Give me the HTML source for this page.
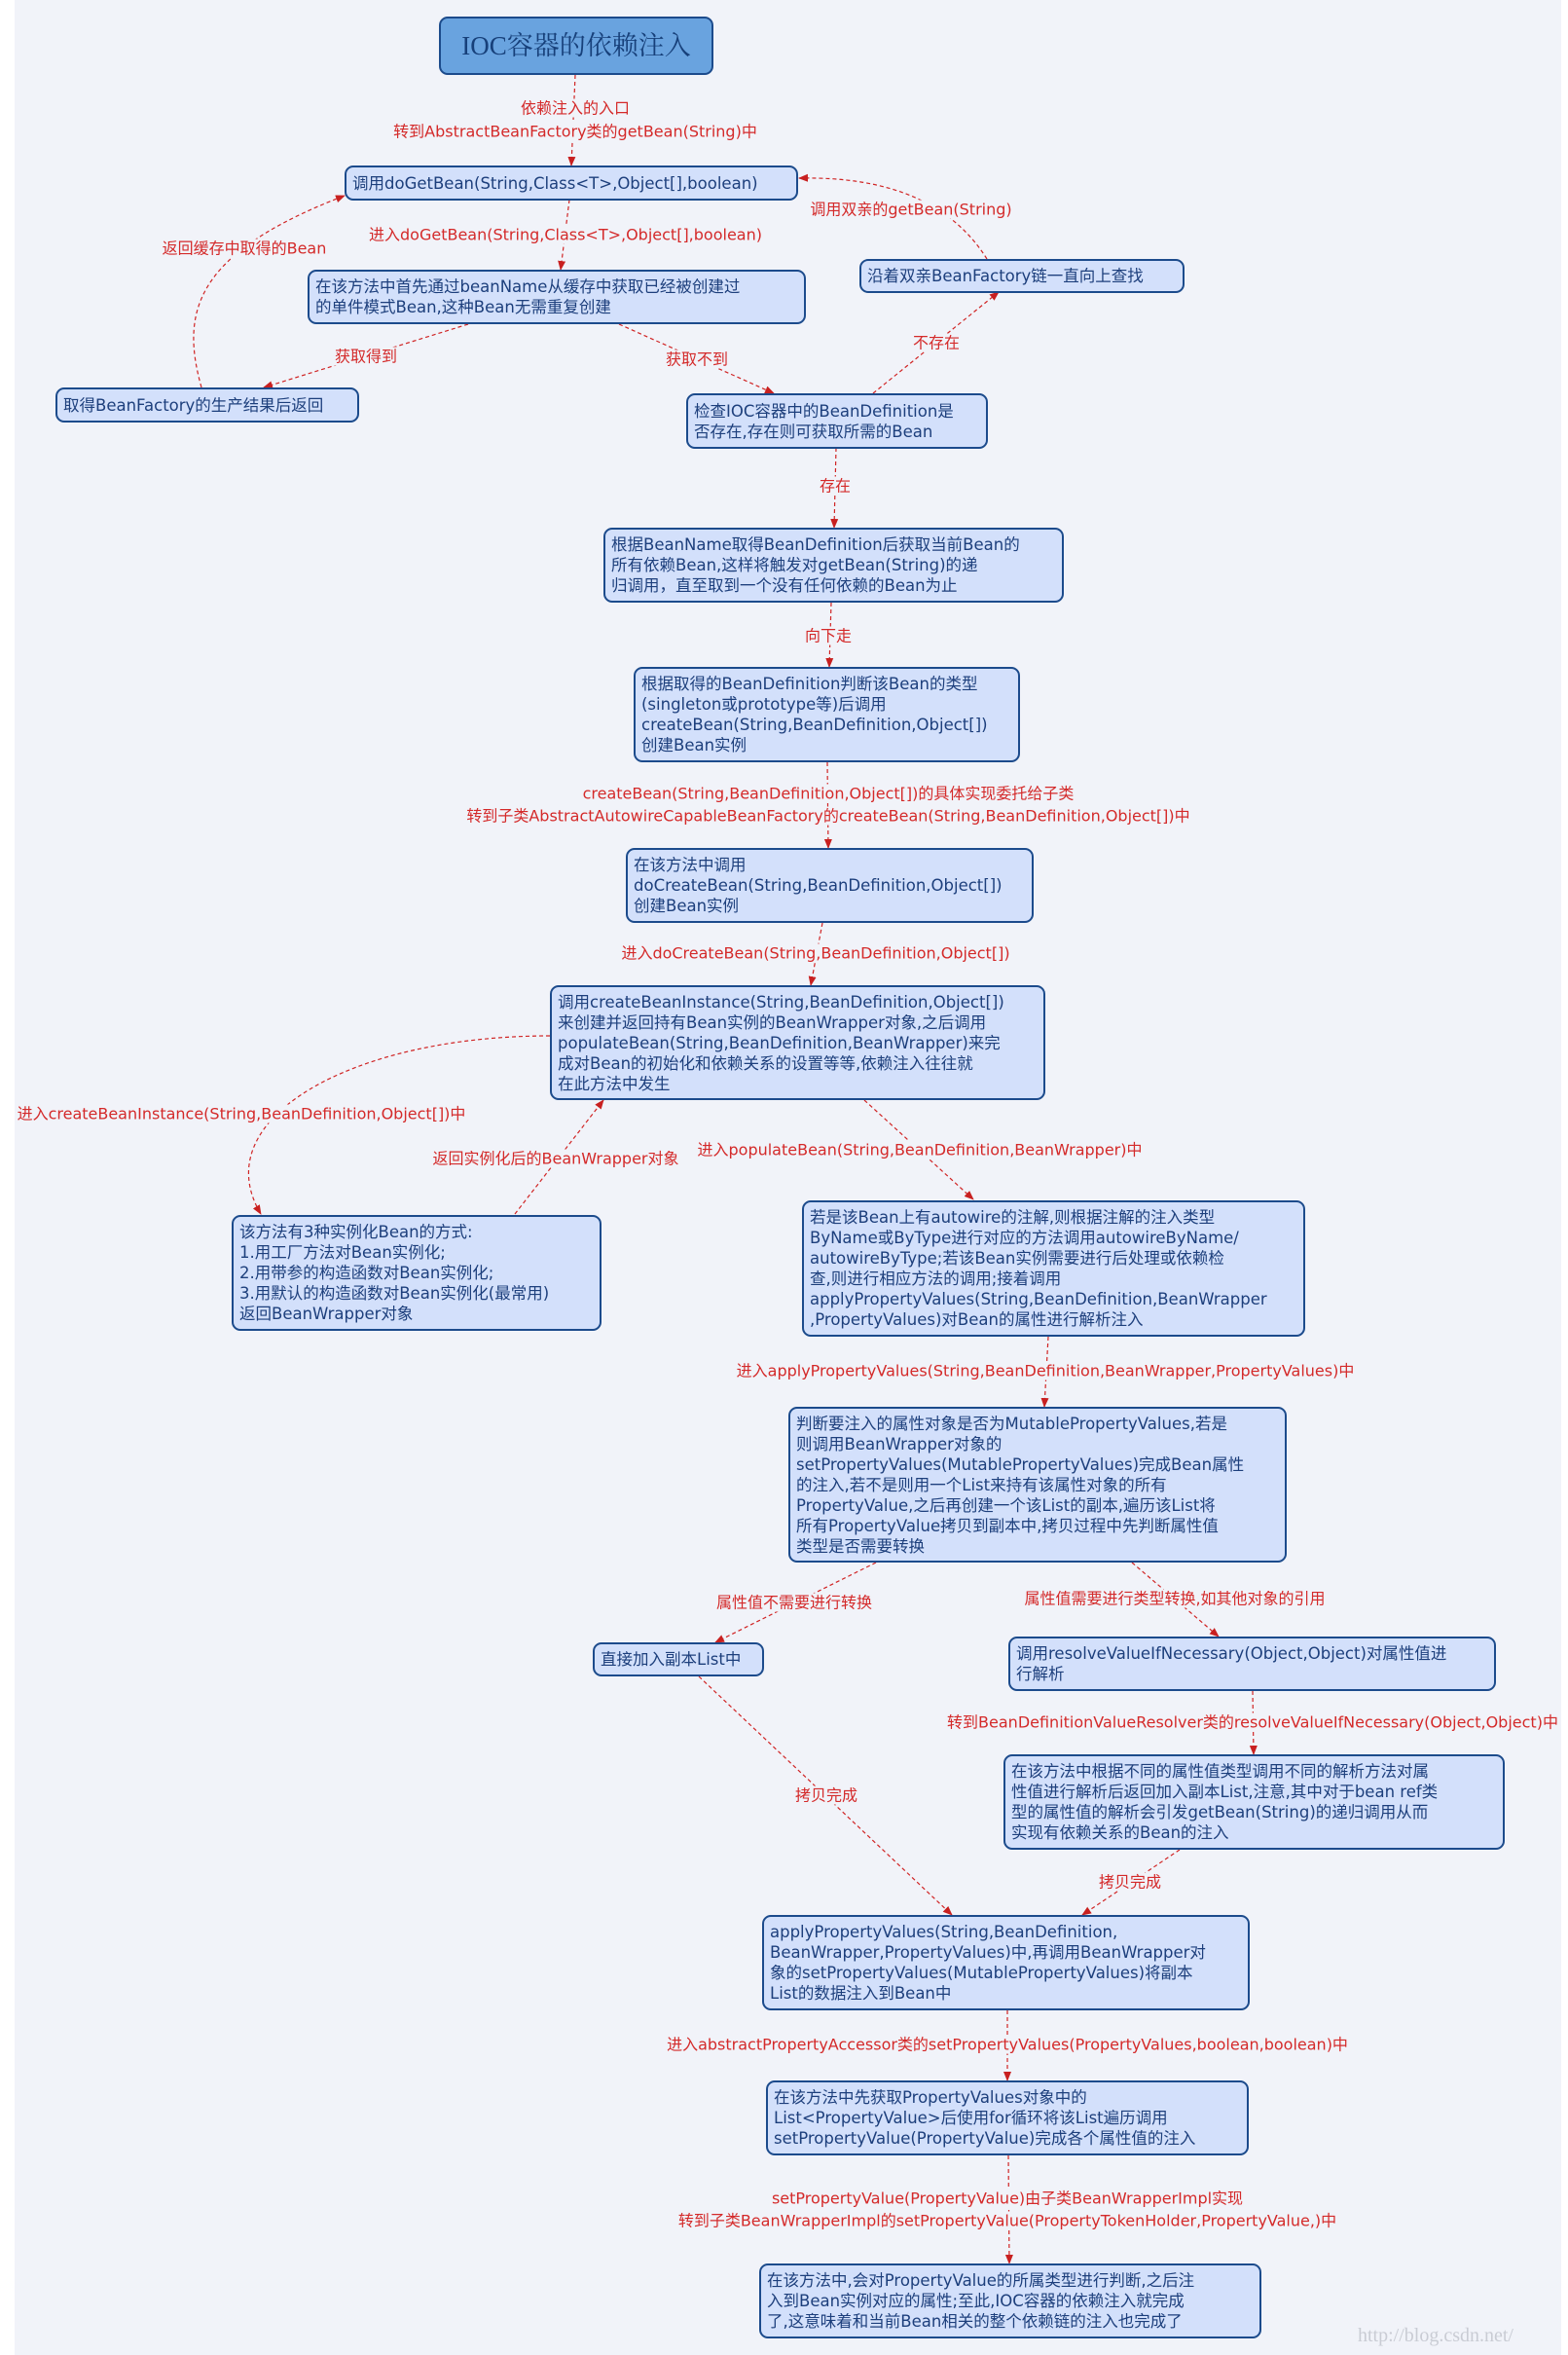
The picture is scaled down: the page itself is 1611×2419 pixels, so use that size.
<!DOCTYPE html>
<html><head><meta charset="utf-8">
<style>
html,body{margin:0;padding:0;background:#fff;}
body{width:1611px;height:2419px;position:relative;overflow:hidden;}
#bg{position:absolute;left:15px;top:0;width:1589px;height:2419px;background:#f1f3f9;}
.b{position:absolute;box-sizing:border-box;border:2px solid #1c4b8c;border-radius:9px;background:#d3e0fb;color:#1d3f7c;
font-family:"DejaVu Sans","Noto Sans CJK SC",sans-serif;font-size:16.5px;line-height:21px;padding:0 6px;display:flex;align-items:center;white-space:nowrap;}
.l{position:absolute;transform:translate(-50%,-50%);color:#d42a2a;background:#f1f3f9;font-family:"DejaVu Sans","Noto Sans CJK SC",sans-serif;font-size:16px;line-height:19px;white-space:nowrap;text-align:center;padding:0 2px;}
svg{position:absolute;left:0;top:0;}
</style></head><body>
<div id="bg"></div>
<svg width="1611" height="2419" viewBox="0 0 1611 2419">
<defs><marker id="a" markerWidth="10" markerHeight="10" refX="9" refY="5" orient="auto" markerUnits="userSpaceOnUse"><path d="M0,1 L10,5 L0,9 z" fill="#c82020"/></marker></defs>
<g stroke="#d02424" stroke-width="1.2" stroke-dasharray="4,3" fill="none" marker-end="url(#a)">
<path d="M591,77 L587,170"/>
<path d="M585,205 L576,277"/>
<path d="M481,333 L271,398"/>
<path d="M636,333 L795,404"/>
<path d="M897,404 L1026,300"/>
<path d="M1014,266 Q960,180 821,183"/>
<path d="M207,398 C185,320 200,260 354,201"/>
<path d="M859,460 L857,542"/>
<path d="M854,619 L852,685"/>
<path d="M850,783 L851,871"/>
<path d="M845,948 L833,1012"/>
<path d="M565,1064 C360,1064 210,1150 268,1247"/>
<path d="M529,1247 L620,1130"/>
<path d="M888,1130 L1000,1232"/>
<path d="M1077,1373 L1073,1445"/>
<path d="M900,1605 L735,1687"/>
<path d="M1163,1605 L1252,1681"/>
<path d="M1287,1737 L1288,1802"/>
<path d="M718,1722 L978,1967"/>
<path d="M1212,1900 L1112,1967"/>
<path d="M1035,2065 L1035,2137"/>
<path d="M1036,2214 L1037,2325"/>
</g>
</svg>

<div class="b" style="left:451px;top:17px;width:282px;height:60px;background:#69a3df;justify-content:center;font-family:'Liberation Serif','Noto Serif CJK SC',serif;font-size:27px;color:#17407a;">IOC容器的依赖注入</div>
<div class="b" style="left:354px;top:170px;width:466px;height:36px;">调用doGetBean(String,Class&lt;T&gt;,Object[],boolean)</div>
<div class="b" style="left:316px;top:277px;width:512px;height:56px;">在该方法中首先通过beanName从缓存中获取已经被创建过<br>的单件模式Bean,这种Bean无需重复创建</div>
<div class="b" style="left:883px;top:266px;width:334px;height:35px;">沿着双亲BeanFactory链一直向上查找</div>
<div class="b" style="left:57px;top:398px;width:312px;height:36px;">取得BeanFactory的生产结果后返回</div>
<div class="b" style="left:705px;top:404px;width:310px;height:57px;">检查IOC容器中的BeanDefinition是<br>否存在,存在则可获取所需的Bean</div>
<div class="b" style="left:620px;top:542px;width:473px;height:77px;">根据BeanName取得BeanDefinition后获取当前Bean的<br>所有依赖Bean,这样将触发对getBean(String)的递<br>归调用，直至取到一个没有任何依赖的Bean为止</div>
<div class="b" style="left:651px;top:685px;width:397px;height:98px;">根据取得的BeanDefinition判断该Bean的类型<br>(singleton或prototype等)后调用<br>createBean(String,BeanDefinition,Object[])<br>创建Bean实例</div>
<div class="b" style="left:643px;top:871px;width:419px;height:77px;">在该方法中调用<br>doCreateBean(String,BeanDefinition,Object[])<br>创建Bean实例</div>
<div class="b" style="left:565px;top:1012px;width:509px;height:118px;">调用createBeanInstance(String,BeanDefinition,Object[])<br>来创建并返回持有Bean实例的BeanWrapper对象,之后调用<br>populateBean(String,BeanDefinition,BeanWrapper)来完<br>成对Bean的初始化和依赖关系的设置等等,依赖注入往往就<br>在此方法中发生</div>
<div class="b" style="left:238px;top:1248px;width:380px;height:119px;">该方法有3种实例化Bean的方式:<br>1.用工厂方法对Bean实例化;<br>2.用带参的构造函数对Bean实例化;<br>3.用默认的构造函数对Bean实例化(最常用)<br>返回BeanWrapper对象</div>
<div class="b" style="left:824px;top:1233px;width:517px;height:140px;">若是该Bean上有autowire的注解,则根据注解的注入类型<br>ByName或ByType进行对应的方法调用autowireByName/<br>autowireByType;若该Bean实例需要进行后处理或依赖检<br>查,则进行相应方法的调用;接着调用<br>applyPropertyValues(String,BeanDefinition,BeanWrapper<br>,PropertyValues)对Bean的属性进行解析注入</div>
<div class="b" style="left:810px;top:1445px;width:512px;height:160px;">判断要注入的属性对象是否为MutablePropertyValues,若是<br>则调用BeanWrapper对象的<br>setPropertyValues(MutablePropertyValues)完成Bean属性<br>的注入,若不是则用一个List来持有该属性对象的所有<br>PropertyValue,之后再创建一个该List的副本,遍历该List将<br>所有PropertyValue拷贝到副本中,拷贝过程中先判断属性值<br>类型是否需要转换</div>
<div class="b" style="left:609px;top:1687px;width:176px;height:35px;">直接加入副本List中</div>
<div class="b" style="left:1036px;top:1681px;width:501px;height:56px;">调用resolveValueIfNecessary(Object,Object)对属性值进<br>行解析</div>
<div class="b" style="left:1031px;top:1802px;width:515px;height:98px;">在该方法中根据不同的属性值类型调用不同的解析方法对属<br>性值进行解析后返回加入副本List,注意,其中对于bean ref类<br>型的属性值的解析会引发getBean(String)的递归调用从而<br>实现有依赖关系的Bean的注入</div>
<div class="b" style="left:783px;top:1967px;width:501px;height:98px;">applyPropertyValues(String,BeanDefinition,<br>BeanWrapper,PropertyValues)中,再调用BeanWrapper对<br>象的setPropertyValues(MutablePropertyValues)将副本<br>List的数据注入到Bean中</div>
<div class="b" style="left:787px;top:2137px;width:496px;height:77px;">在该方法中先获取PropertyValues对象中的<br>List&lt;PropertyValue&gt;后使用for循环将该List遍历调用<br>setPropertyValue(PropertyValue)完成各个属性值的注入</div>
<div class="b" style="left:780px;top:2325px;width:516px;height:77px;">在该方法中,会对PropertyValue的所属类型进行判断,之后注<br>入到Bean实例对应的属性;至此,IOC容器的依赖注入就完成<br>了,这意味着和当前Bean相关的整个依赖链的注入也完成了</div>

<div class="l" style="left:591px;top:111px;">依赖注入的入口</div>
<div class="l" style="left:591px;top:135px;">转到AbstractBeanFactory类的getBean(String)中</div>
<div class="l" style="left:936px;top:215px;">调用双亲的getBean(String)</div>
<div class="l" style="left:581px;top:241px;">进入doGetBean(String,Class&lt;T&gt;,Object[],boolean)</div>
<div class="l" style="left:251px;top:255px;">返回缓存中取得的Bean</div>
<div class="l" style="left:376px;top:366px;">获取得到</div>
<div class="l" style="left:716px;top:369px;">获取不到</div>
<div class="l" style="left:962px;top:352px;">不存在</div>
<div class="l" style="left:858px;top:499px;">存在</div>
<div class="l" style="left:851px;top:653px;">向下走</div>
<div class="l" style="left:851px;top:815px;">createBean(String,BeanDefinition,Object[])的具体实现委托给子类</div>
<div class="l" style="left:851px;top:838px;">转到子类AbstractAutowireCapableBeanFactory的createBean(String,BeanDefinition,Object[])中</div>
<div class="l" style="left:838px;top:979px;">进入doCreateBean(String,BeanDefinition,Object[])</div>
<div class="l" style="left:248px;top:1144px;">进入createBeanInstance(String,BeanDefinition,Object[])中</div>
<div class="l" style="left:571px;top:1190px;">返回实例化后的BeanWrapper对象</div>
<div class="l" style="left:945px;top:1181px;">进入populateBean(String,BeanDefinition,BeanWrapper)中</div>
<div class="l" style="left:1074px;top:1408px;">进入applyPropertyValues(String,BeanDefinition,BeanWrapper,PropertyValues)中</div>
<div class="l" style="left:816px;top:1646px;">属性值不需要进行转换</div>
<div class="l" style="left:1207px;top:1642px;">属性值需要进行类型转换,如其他对象的引用</div>
<div class="l" style="left:1287px;top:1769px;">转到BeanDefinitionValueResolver类的resolveValueIfNecessary(Object,Object)中</div>
<div class="l" style="left:849px;top:1844px;">拷贝完成</div>
<div class="l" style="left:1161px;top:1933px;">拷贝完成</div>
<div class="l" style="left:1035px;top:2100px;">进入abstractPropertyAccessor类的setPropertyValues(PropertyValues,boolean,boolean)中</div>
<div class="l" style="left:1035px;top:2258px;">setPropertyValue(PropertyValue)由子类BeanWrapperImpl实现</div>
<div class="l" style="left:1035px;top:2281px;">转到子类BeanWrapperImpl的setPropertyValue(PropertyTokenHolder,PropertyValue,)中</div>
<div style="position:absolute;left:1395px;top:2388px;color:#c9ccd4;font-family:'Liberation Serif',serif;font-size:20px;">http://blog.csdn.net/</div>
</body></html>
